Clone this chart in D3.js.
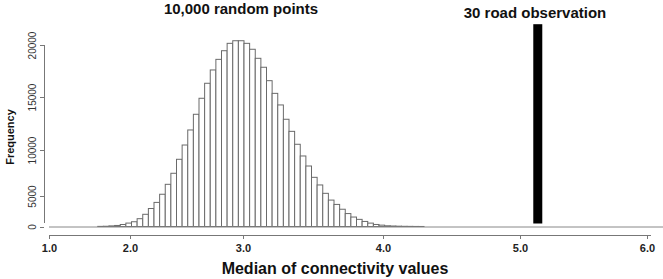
<!DOCTYPE html>
<html lang="en">
<head>
  <meta charset="UTF-8">
  <title>Median of connectivity values</title>
  <style>
    body {
      margin: 0;
      background: #fff;
      font-family: 'Liberation Sans', Arial, sans-serif;
    }
    .bin { fill: #fff; stroke: #6a6a6a; stroke-width: 1; }
    .axis path, .axis line { stroke: #777; shape-rendering: crispEdges; }
    .xaxis text { font-size: 11px; font-weight: bold; fill: #222; }
    .yaxis text { font-size: 10px; fill: #333; }
    .title { font-size: 15px; font-weight: bold; fill: #111; }
  </style>
  <script src="https://d3js.org/d3.v7.min.js"></script>
</head>
<body>
  <svg id="chart" width="663" height="279"></svg>

  <script>
    // histogram of medians from the random points (left edge of each 0.05 bin)
    const binStarts = [1.70, 1.75, 1.80, 1.85, 1.90, 1.95, 2.00, 2.05, 2.10, 2.15,
                       2.20, 2.25, 2.30, 2.35, 2.40, 2.45, 2.50, 2.55, 2.60, 2.65,
                       2.70, 2.75, 2.80, 2.85, 2.90, 2.95, 3.00, 3.05, 3.10, 3.15,
                       3.20, 3.25, 3.30, 3.35, 3.40, 3.45, 3.50, 3.55, 3.60, 3.65,
                       3.70, 3.75, 3.80, 3.85, 3.90, 3.95, 4.00, 4.05, 4.10, 4.15,
                       4.20, 4.25, 4.30, 4.35, 4.40, 4.45, 4.50, 4.55];
    const binCounts = [20, 40, 100, 170, 330, 560, 780, 1280, 2000, 2950,
                       3950, 5190, 6270, 7470, 8990, 10470, 11890, 13370, 14880, 16320,
                       17600, 18620, 19450, 20160, 20410, 20410, 20160, 19590, 18720, 17860,
                       16570, 15350, 14250, 12900, 11760, 10540, 9350, 8260, 7030, 6200,
                       5290, 4330, 3620, 2830, 2120, 1550, 1170, 830, 555, 333,
                       222, 117, 80, 50, 30, 20, 10, 5];
    const binWidth = 0.05;

    // the 30 road observation
    const roadValues = [5.14];
    const roadCounts = [22000];

    const xTicks = [1, 2, 3, 4, 5, 6];
    const xTickLabels = ["1.0", "2.0", "3.0", "4.0", "5.0", "6.0"];
    const yTicks = [0, 5000, 10000, 15000, 20000];
    const yTickLabels = ["0", "5000", "10000", "15000", "20000"];

    const svg = d3.select("#chart");

    // axis spacing in the original figure is uneven, so both scales are piecewise
    const x = d3.scaleLinear()
      .domain(xTicks)
      .range([49, 130, 243, 383, 520, 647]);
    // the histogram itself keeps even bins, matched to the 2.0 / 3.0 ticks
    const xHist = d3.scaleLinear()
      .domain([2, 3])
      .range([131.5, 244]);
    const y = d3.scaleLinear()
      .domain(yTicks)
      .range([226.5, 196, 150, 97, 45]);

    // histogram bars
    svg.append("g")
      .selectAll("rect")
      .data(binStarts)
      .join("rect")
      .attr("class", "bin")
      .attr("x", d => xHist(d))
      .attr("width", d => xHist(d + binWidth) - xHist(d))
      .attr("y", (d, i) => y(binCounts[i]))
      .attr("height", (d, i) => y(0) - y(binCounts[i]));

    // baseline under the bars
    svg.append("line")
      .attr("x1", x(1)).attr("x2", 663)
      .attr("y1", y(0) + 0.5).attr("y2", y(0) + 0.5)
      .attr("stroke", "#888");

    // observed value
    svg.append("g")
      .selectAll("rect")
      .data(roadValues)
      .join("rect")
      .attr("x", d => x(d) - 4.5)
      .attr("width", 9)
      .attr("y", (d, i) => y(roadCounts[i]))
      .attr("height", (d, i) => y(0) - 3 - y(roadCounts[i]))
      .attr("fill", "#000");

    // x axis
    const gx = svg.append("g")
      .attr("class", "axis xaxis")
      .attr("transform", "translate(0,235)")
      .call(d3.axisBottom(x)
        .tickValues(xTicks)
        .tickFormat((d, i) => xTickLabels[i])
        .tickSizeInner(4)
        .tickSizeOuter(0));
    gx.select(".domain").attr("d", `M${x(1)},0.5H${x(6) + 4}`);
    gx.selectAll("text").attr("dy", "0.95em");

    // y axis
    const gy = svg.append("g")
      .attr("class", "axis yaxis")
      .attr("transform", "translate(44,0)")
      .call(d3.axisLeft(y)
        .tickValues(yTicks)
        .tickFormat((d, i) => yTickLabels[i])
        .tickSizeInner(4)
        .tickSizeOuter(0));
    gy.select(".domain").attr("d", `M0.5,${y(0) - 4}V${y(20000)}`);
    gy.selectAll("text")
      .attr("transform", "rotate(-90)")
      .attr("x", 0)
      .attr("y", -8)
      .attr("dy", 0)
      .attr("text-anchor", "middle");

    // titles
    svg.append("text")
      .attr("class", "title")
      .attr("x", 241).attr("y", 14)
      .attr("text-anchor", "middle")
      .text("10,000 random points");

    svg.append("text")
      .attr("class", "title")
      .attr("x", 535).attr("y", 18)
      .attr("text-anchor", "middle")
      .text("30 road observation");

    svg.append("text")
      .attr("class", "title")
      .attr("x", 335).attr("y", 274)
      .attr("text-anchor", "middle")
      .style("font-size", "16px")
      .text("Median of connectivity values");

    svg.append("text")
      .attr("transform", "translate(14,137) rotate(-90)")
      .attr("text-anchor", "middle")
      .style("font-size", "11px")
      .style("font-weight", "bold")
      .attr("fill", "#111")
      .text("Frequency");
  </script>
</body>
</html>
